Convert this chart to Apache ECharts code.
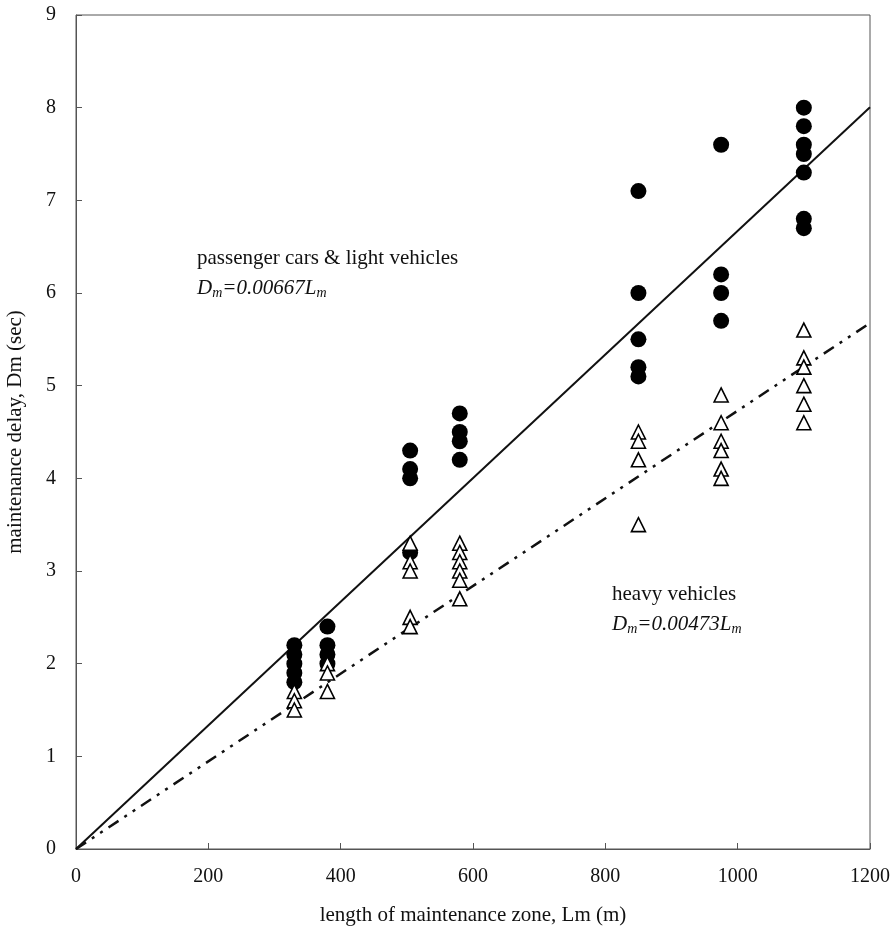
<!DOCTYPE html>
<html>
<head>
<meta charset="utf-8">
<script src="https://cdn.jsdelivr.net/npm/echarts@6/dist/echarts.min.js"></script>
<style>
  html, body { margin: 0; padding: 0; background: #fff; }
  #chart { width: 895px; height: 936px; }
</style>
</head>
<body>
<div id="chart"></div>
<script>
// zone lengths (m) and delays (sec)
const carPoints = [
  [330, 2.2], [330, 2.1], [330, 2.0], [330, 1.9], [330, 1.8],
  [380, 2.4], [380, 2.2], [380, 2.1], [380, 2.0],
  [505, 4.3], [505, 4.1], [505, 4.0], [505, 3.2],
  [580, 4.7], [580, 4.5], [580, 4.4], [580, 4.2],
  [850, 7.1], [850, 6.0], [850, 5.5], [850, 5.2], [850, 5.1],
  [975, 7.6], [975, 6.2], [975, 6.0], [975, 5.7],
  [1100, 8.0], [1100, 7.8], [1100, 7.6], [1100, 7.5], [1100, 7.3], [1100, 6.8], [1100, 6.7],
];
const heavyPoints = [
  [330, 1.7], [330, 1.6], [330, 1.5],
  [380, 2.0], [380, 1.9], [380, 1.7],
  [505, 3.3], [505, 3.1], [505, 3.0], [505, 2.5], [505, 2.4],
  [580, 3.3], [580, 3.2], [580, 3.1], [580, 3.0], [580, 2.9], [580, 2.7],
  [850, 4.5], [850, 4.4], [850, 4.2], [850, 3.5],
  [975, 4.9], [975, 4.6], [975, 4.4], [975, 4.3], [975, 4.1], [975, 4.0],
  [1100, 5.6], [1100, 5.3], [1100, 5.2], [1100, 5.0], [1100, 4.8], [1100, 4.6],
];
const carSlope = 0.00667;
const heavySlope = 0.00473;
const fitRange = [0, 1200];

const font = '"Liberation Serif", "Times New Roman", serif';
const myChart = echarts.init(document.getElementById('chart'));

const option = {
  backgroundColor: '#fff',
  animation: false,
  grid: {
    left: 76,
    top: 15,
    right: 25,
    bottom: 87,
    outerBoundsMode: 'none',
    containLabel: false,
    show: true,
    borderColor: '#555',
    borderWidth: 1,
  },
  xAxis: {
    type: 'value',
    min: 0,
    max: 1200,
    interval: 200,
    name: 'length of maintenance zone, Lm (m)',
    nameLocation: 'middle',
    nameGap: 56,
    nameTextStyle: { fontFamily: font, fontSize: 21, color: '#111' },
    axisLine: { lineStyle: { color: '#555' } },
    axisTick: { inside: true, length: 6, lineStyle: { color: '#555' } },
    axisLabel: {
      fontFamily: font,
      fontSize: 20,
      color: '#111',
      margin: 18,
      formatter: (v) => String(v),
    },
    splitLine: { show: false },
  },
  yAxis: {
    type: 'value',
    min: 0,
    max: 9,
    interval: 1,
    name: 'maintenance delay, Dm (sec)',
    nameLocation: 'middle',
    nameGap: 50,
    nameTextStyle: { fontFamily: font, fontSize: 21, color: '#111' },
    axisLine: { lineStyle: { color: '#555' } },
    axisTick: { inside: true, length: 6, lineStyle: { color: '#555' } },
    axisLabel: { fontFamily: font, fontSize: 20, color: '#111', margin: 20 },
    splitLine: { show: false },
  },
  series: [
    {
      name: 'cars fit',
      type: 'line',
      data: fitRange.map((x) => [x, x * carSlope]),
      symbol: 'none',
      lineStyle: { color: '#111', width: 2 },
      z: 1,
    },
    {
      name: 'heavy fit',
      type: 'line',
      data: fitRange.map((x) => [x, x * heavySlope]),
      symbol: 'none',
      lineStyle: { color: '#111', width: 2.5, type: [12, 7, 3, 7, 3, 7] },
      z: 1,
    },
    {
      name: 'passenger cars & light vehicles',
      type: 'scatter',
      data: carPoints,
      symbol: 'circle',
      symbolSize: 16,
      itemStyle: { color: '#000', opacity: 1 },
      z: 3,
    },
    {
      name: 'heavy vehicles',
      type: 'scatter',
      data: heavyPoints,
      symbol: 'triangle',
      symbolSize: 14,
      itemStyle: { color: '#fff', borderColor: '#000', borderWidth: 1.6, opacity: 1 },
      z: 4,
    },
  ],
  graphic: [
    {
      type: 'text',
      left: 197,
      top: 243,
      style: {
        text: 'passenger cars & light vehicles\n{i|D}{s|m}{i|=0.00667L}{s|m}',
        font: '21px ' + font,
        fill: '#111',
        lineHeight: 30,
        rich: {
          i: { fontFamily: font, fontSize: 21, fontStyle: 'italic', fill: '#111' },
          s: { fontFamily: font, fontSize: 14, fontStyle: 'italic', fill: '#111', padding: [10, 0, 0, 0] },
        },
      },
    },
    {
      type: 'text',
      left: 612,
      top: 579,
      style: {
        text: 'heavy vehicles\n{i|D}{s|m}{i|=0.00473L}{s|m}',
        font: '21px ' + font,
        fill: '#111',
        lineHeight: 30,
        rich: {
          i: { fontFamily: font, fontSize: 21, fontStyle: 'italic', fill: '#111' },
          s: { fontFamily: font, fontSize: 14, fontStyle: 'italic', fill: '#111', padding: [10, 0, 0, 0] },
        },
      },
    },
  ],
};

myChart.setOption(option);
</script>
</body>
</html>
